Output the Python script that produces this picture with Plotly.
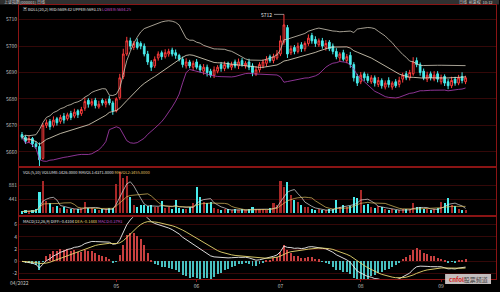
import plotly.graph_objects as go
import pandas as pd

# ---------------- data ----------------
close = [5665.5,5664,5665,5663,5662,5657,5670,5671,5669.5,5672,5671,5673,5672,5674,5673,5675,
         5674,5676,5679,5678,5679,5677.5,5678,5678.5,5679,5678.5,5675.5,5680,5688,5697,5702,5700,
         5701,5699.5,5700,5697,5694,5692,5695,5697,5696,5697.5,5698,5697,5696.5,5695,5693,5694,
         5692.5,5693.5,5692,5691,5692,5690,5689,5691,5692,5691.5,5693,5692,5693,5692.5,5694,5693,
         5693.5,5692,5690,5691,5693,5694,5695,5694.5,5696,5697,5702,5708,5697,5699,5698,5700,
         5699,5701,5703,5702,5701,5702,5700,5701,5699,5698,5696,5697,5695,5696,5693,5688,
         5686,5689,5688,5687,5688,5686,5687,5685,5686,5685.5,5686,5685,5687,5689,5688,5690,
         5694,5693,5690,5688,5689,5688,5689,5687.5,5688,5686,5685,5687,5686,5688,5687,5688]
open_ = [5666.5,5665.5,5664,5665,5663,5662,5657.5,5670,5671.5,5670,5672.5,5671.5,5673.5,5672.5,5674.5,5673.5,
         5675.5,5674.5,5676.5,5679.5,5678,5679.5,5677,5679.5,5678,5680,5678.5,5675.5,5680.5,5688.5,5697,5702,
         5699.5,5701.5,5701,5700,5697,5694,5692.5,5695.5,5697.5,5696,5697,5698.5,5697.5,5696.5,5695,5692.5,
         5694,5692,5694,5692.5,5690.5,5692,5690.5,5689,5690.5,5693,5691.5,5693.5,5692,5694,5692.5,5694.5,
         5692.5,5694,5692.5,5689.5,5691,5692.5,5693.5,5696,5694.5,5695.5,5697,5701.5,5707,5697.5,5699.5,5698,
         5700.5,5699,5701,5704,5702.5,5700.5,5702,5699.5,5701.5,5700,5698,5695.5,5697.5,5694.5,5696.5,5693,
         5688.5,5686.5,5689.5,5688.5,5686.5,5688,5685.5,5687,5684.5,5687,5684.5,5686.5,5685.5,5687.5,5689.5,5688,
         5689.5,5694.5,5693,5690.5,5687.5,5689.5,5687.5,5689.5,5686.5,5688.5,5686.5,5685,5687.5,5686,5688.5,5686.5]
upper_wick = [1.0,0.8,1.2,0.6,1.0,1.5,0.8,1.2,0.9,1.4,0.7,1.0,1.2,0.8,1.0,1.3,
              0.6,1.0,1.5,0.8,1.1,0.9,1.3,0.7,1.0,1.2,0.8,0.6,1.5,2.0,1.5,1.2,
              0.9,1.4,0.8,1.0,1.2,0.7,1.1,1.0,0.8,1.3,1.0,0.9,1.2,0.6,1.0,1.4,
              0.8,1.0,1.1,0.7,1.2,1.0,0.9,1.3,0.8,1.0,1.2,0.6,1.1,0.9,1.3,1.0,
              0.8,1.2,1.0,1.4,0.9,1.0,1.2,0.8,1.1,1.5,2.0,4.0,1.0,1.2,0.9,1.3,
              1.0,0.8,1.4,1.0,1.2,0.9,1.1,1.3,0.8,1.0,1.2,0.7,1.1,1.0,1.3,0.9,
              1.0,1.2,0.8,1.1,1.0,0.9,1.3,0.8,1.0,1.2,0.7,1.0,1.4,0.9,1.1,1.0,
              1.8,1.2,0.8,1.0,1.3,0.9,1.5,1.0,1.2,0.8,1.0,1.4,0.9,1.1,1.6,0.8]
lower_wick = [0.8,1.0,0.7,1.2,0.9,3.0,0.5,1.0,1.2,0.8,1.1,0.9,1.3,0.7,1.0,0.8,
              1.2,0.9,1.0,1.3,0.8,1.1,0.7,1.0,1.2,0.9,1.5,0.6,0.8,1.0,0.7,1.3,
              1.0,0.8,1.2,0.9,1.1,1.4,0.8,1.0,1.2,0.7,1.0,0.9,1.3,0.8,1.1,1.0,
              0.9,1.2,0.8,1.0,1.3,1.5,0.9,1.1,0.8,1.2,1.0,0.7,1.1,0.9,1.2,0.8,
              1.0,1.1,1.4,0.8,1.0,0.9,1.2,0.8,1.0,0.7,0.8,1.0,1.5,0.9,1.1,0.8,
              1.2,1.0,0.9,1.1,1.3,0.8,1.0,1.2,0.9,1.1,1.0,1.3,0.8,1.0,1.2,1.4,
              1.1,0.9,1.2,1.0,0.8,1.3,1.0,1.1,0.9,1.2,1.0,0.8,1.1,1.3,0.9,1.0,
              0.7,1.0,1.2,0.9,1.1,1.0,0.8,1.2,1.0,1.1,1.3,0.9,1.0,0.8,1.1,0.9]
volume = [60,80,50,90,120,640,1000,360,300,200,220,150,180,120,140,110,
          130,150,330,170,160,120,100,130,110,150,160,900,1270,1100,1150,500,
          250,200,240,260,220,250,180,200,370,150,200,130,400,150,120,130,
          180,320,800,500,350,300,350,150,120,100,130,110,90,120,100,110,
          90,130,200,120,110,130,100,150,300,250,1000,800,950,560,400,350,
          250,200,180,120,100,110,90,100,120,110,400,200,250,180,220,500,
          480,700,250,280,200,150,230,200,120,100,110,90,100,120,110,130,
          300,200,180,120,110,100,130,150,350,300,480,250,220,120,100,90]

price_ticks = [5660, 5670, 5680, 5690, 5700, 5710]
vol_ticks = [440.5, 881]
vol_tick_text = ["441", "881"]
macd_ticks = [-2, 0, 2, 4, 6]
date_tick_idx = [27, 50, 74, 97, 120]
date_tick_text = ["05", "06", "07", "08", "09"]
first_date_label = "04/2022"
title_text = "上证指数(000001) 日线"
right_top_text = "日线  前复权  10:12"

# ---------------- derived ----------------
n = len(close)
assert len(open_) == n and len(upper_wick) == n and len(lower_wick) == n and len(volume) == n
x = list(range(n))
high = [max(o, c) + w for o, c, w in zip(open_, close, upper_wick)]
low = [min(o, c) - w for o, c, w in zip(open_, close, lower_wick)]
s = pd.Series(close)
mid = s.rolling(20, min_periods=1).mean()
sd = s.rolling(20, min_periods=1).std(ddof=0)
upper = mid + 2 * sd
lower = mid - 2 * sd
ema12 = s.ewm(span=12, adjust=False).mean()
ema26 = s.ewm(span=26, adjust=False).mean()
diff = ema12 - ema26
dea = diff.ewm(span=9, adjust=False).mean()
hist = 2 * (diff - dea)
v = pd.Series(volume)
mav5 = v.rolling(5, min_periods=1).mean()
mav10 = v.rolling(10, min_periods=1).mean()

RED = "#ff3c3c"
CYAN = "#48ecec"
AXIS = "#8a1414"
GRID = "#340808"
TXT = "#c0c0c0"
FONT = "Noto Sans CJK SC"

up = [c >= o for o, c in zip(open_, close)]
vol_colors = ["#a82828" if u else CYAN for u in up]
hist_colors = ["#c84040" if h >= 0 else "#48c0c0" for h in hist]

fig = go.Figure()
fig.add_trace(go.Candlestick(
    x=x, open=open_, high=high, low=low, close=close,
    increasing=dict(line=dict(color=RED, width=1), fillcolor="#000000"),
    decreasing=dict(line=dict(color=CYAN, width=1), fillcolor=CYAN),
    xaxis="x", yaxis="y", showlegend=False, hoverinfo="skip"))
fig.add_trace(go.Scatter(x=x, y=upper, mode="lines", line=dict(color="#cfc8b8", width=0.8),
                         xaxis="x", yaxis="y", showlegend=False, hoverinfo="skip"))
fig.add_trace(go.Scatter(x=x, y=mid, mode="lines", line=dict(color="#e8e0c8", width=0.8),
                         xaxis="x", yaxis="y", showlegend=False, hoverinfo="skip"))
fig.add_trace(go.Scatter(x=x, y=lower, mode="lines", line=dict(color="#b040b8", width=0.8),
                         xaxis="x", yaxis="y", showlegend=False, hoverinfo="skip"))

fig.add_trace(go.Bar(x=x, y=volume, marker=dict(color=vol_colors, line=dict(width=0)), width=0.6,
                     xaxis="x2", yaxis="y2", showlegend=False, hoverinfo="skip"))
fig.add_trace(go.Scatter(x=x, y=mav5, mode="lines", line=dict(color="#e0e0e0", width=0.7),
                         xaxis="x2", yaxis="y2", showlegend=False, hoverinfo="skip"))
fig.add_trace(go.Scatter(x=x, y=mav10, mode="lines", line=dict(color="#e0c060", width=0.7),
                         xaxis="x2", yaxis="y2", showlegend=False, hoverinfo="skip"))

fig.add_trace(go.Bar(x=x, y=hist, marker=dict(color=hist_colors, line=dict(width=0)), width=0.28,
                     xaxis="x3", yaxis="y3", showlegend=False, hoverinfo="skip"))
fig.add_trace(go.Scatter(x=x, y=diff, mode="lines", line=dict(color="#f0f0f0", width=0.9),
                         xaxis="x3", yaxis="y3", showlegend=False, hoverinfo="skip"))
fig.add_trace(go.Scatter(x=x, y=dea, mode="lines", line=dict(color="#e8d870", width=0.9),
                         xaxis="x3", yaxis="y3", showlegend=False, hoverinfo="skip"))

L, R, T, B, W, H = 19, 3, 5, 7, 500, 292
PW, PH = W - L - R, H - T - B
def px(p):
    return (p - L) / PW
def py(p):
    return 1 - (p - T) / PH

sp = 3.5  # pixels per candle
xr = [-(22 - L) / sp, (W - R - 22) / sp]

axis_common = dict(showline=True, linecolor=AXIS, linewidth=1, mirror=True, zeroline=False,
                   showgrid=False, fixedrange=True)
yaxis_common = dict(showline=True, linecolor=AXIS, linewidth=1, mirror=True, zeroline=False,
                    showgrid=True, gridcolor=GRID, gridwidth=1, ticks="",
                    tickfont=dict(size=5, color=TXT, family=FONT), fixedrange=True)

fig.update_layout(
    width=W, height=H, margin=dict(l=L, r=R, t=T, b=B),
    paper_bgcolor="#000000", plot_bgcolor="#000000",
    showlegend=False, bargap=0,
    xaxis=dict(domain=[0, 1], range=xr, anchor="y", showticklabels=False,
               rangeslider=dict(visible=False), **axis_common),
    xaxis2=dict(domain=[0, 1], range=xr, anchor="y2", showticklabels=False, matches="x", **axis_common),
    xaxis3=dict(domain=[0, 1], range=xr, anchor="y3", matches="x", tickvals=date_tick_idx,
                ticktext=date_tick_text, ticks="outside", ticklen=2, tickcolor=AXIS,
                tickfont=dict(size=5, color=TXT, family=FONT), **axis_common),
    yaxis=dict(domain=[py(170), 1], range=[5710 - 150 / 2.7, 5710 + 15 / 2.7],
               tickvals=price_ticks, ticktext=[str(t) for t in price_ticks], **yaxis_common),
    yaxis2=dict(domain=[py(220), py(172)], range=[-2 * 881 / 29, 46 * 881 / 29],
                tickvals=vol_ticks, ticktext=vol_tick_text, **yaxis_common),
    yaxis3=dict(domain=[0, py(222)], range=[-18 * 0.16, 45 * 0.16],
                tickvals=macd_ticks, ticktext=[str(t) for t in macd_ticks], **yaxis_common),
)

# top grey title strip
fig.add_shape(type="rect", xref="paper", yref="paper", x0=px(0), x1=px(W), y0=py(4.5), y1=py(0),
              fillcolor="#303030", line=dict(width=0), layer="below")
ann = []
def note(text, xp, yp, size=4, color=TXT, xanchor="left"):
    ann.append(dict(text=text, x=px(xp), y=py(yp), xref="paper", yref="paper", showarrow=False,
                    xanchor=xanchor, yanchor="middle", font=dict(size=size, color=color, family=FONT)))

note(title_text, 2, 2.4, size=4, color="#d0d0d0")
note(right_top_text, 496, 2.4, size=4, color="#d0d0d0", xanchor="right")
note("▣ BOLL(20,2) MID:5689.42 UPPER:5693.15 <span style='color:#c050c8'>LOWER:5684.25</span>",
     21, 9.5, size=4, color="#e0e0e0")
note("VOL(5,10) VOLUME:1426.0000 MAVOL1:4371.8000 <span style='color:#e0c060'>MAVOL2:3455.8000</span>",
     21, 176, size=4, color="#e0e0e0")
note("MACD(12,26,9) DIFF:-0.4104 <span style='color:#e8d870'>DEA:-0.1448</span> "
     "<span style='color:#c050c8'>MACD:0.3793</span>", 21, 226, size=4, color="#e0e0e0")
note(first_date_label, 8, 289, size=5, color=TXT)

# high / low markers
hi_i = max(range(n), key=lambda i: high[i])
lo_i = min(range(n), key=lambda i: low[i])
for idx, val in ((hi_i, high[hi_i]), (lo_i, low[lo_i])):
    ann.append(dict(text=f"{val:.0f}", x=idx, y=val, xref="x", yref="y", showarrow=True,
                    arrowhead=0, arrowwidth=0.6, arrowcolor="#e0e0e0", ax=-10, ay=0,
                    xanchor="right", font=dict(size=5, color="#e8e8e8", family=FONT)))

# watermark box bottom right
fig.add_shape(type="rect", xref="paper", yref="paper", x0=px(446), x1=px(492), y0=py(290), y1=py(280),
              fillcolor="#e6dede", line=dict(width=0), opacity=0.85)
note("<span style='color:#d02020'><b>cnfol</b></span><span style='color:#404040'>股票频道</span>",
     469, 285, size=6, color="#d02020", xanchor="center")

fig.update_layout(annotations=ann)
fig.write_html("out.html")
